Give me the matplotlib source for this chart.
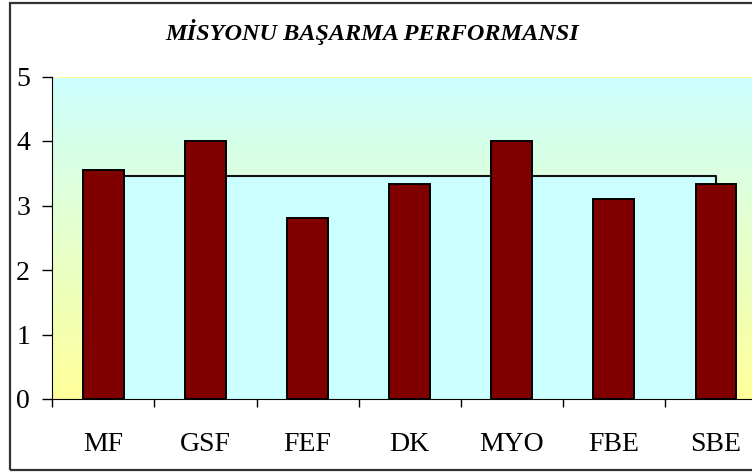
import numpy as np
import matplotlib
matplotlib.use("Agg")
import matplotlib.pyplot as plt
from matplotlib.colors import LinearSegmentedColormap
from matplotlib.patches import Rectangle

# values
categories = ["MF", "GSF", "FEF", "DK", "MYO", "FBE", "SBE"]
scores = [3.55, 4.0, 2.8, 3.34, 4.0, 3.1, 3.34]
average = 3.45
y_ticks = [0, 1, 2, 3, 4, 5]

plt.rcParams["font.family"] = ["Liberation Serif", "DejaVu Serif"]

fig = plt.figure(figsize=(7.52, 4.74), dpi=100)
fig.patch.set_facecolor("white")

# outer chart border (right edge falls outside the picture)
fig.patches.append(
    Rectangle((10 / 752, 1 - 470 / 474), 1.2, (470 - 3) / 474,
              transform=fig.transFigure, facecolor="none",
              edgecolor="#333333", linewidth=1.6)
)

left = 52.3 / 752
right = 767 / 752
bottom = 1 - 399 / 474
top = 1 - 76.5 / 474
ax = fig.add_axes([left, bottom, right - left, top - bottom])

x = np.arange(len(categories))
ax.set_xlim(-0.5, len(categories) - 0.5)
ax.set_ylim(0, 5)

# plot area gradient: cyan at top, yellow at bottom
grad = np.linspace(0, 1, 256).reshape(-1, 1)
cmap = LinearSegmentedColormap.from_list("bg", ["#CCFFFF", "#FFFF99"])
ax.imshow(grad, aspect="auto", cmap=cmap, origin="upper",
          extent=(-0.5, len(categories) - 0.5, 0, 5), zorder=0)

# average area series behind the bars
ax.fill_between([x[0], x[-1]], [average, average], 0,
                color="#CCFFFF", linewidth=0, zorder=1)
ax.plot([x[0], x[-1], x[-1]], [average, average, 0],
        color="#111111", linewidth=1.5, zorder=2)

ax.bar(x, scores, width=0.4, color="#800000", edgecolor="black",
       linewidth=1.4, zorder=3)

ax.axhline(5, color="#FFFF99", linewidth=1.5, zorder=4)

ax.set_yticks(y_ticks)
ax.tick_params(axis="y", direction="out", length=7, width=1,
               pad=9, labelsize=20)

ax.set_xticks(np.arange(-0.5, len(categories)), labels=[])
ax.set_xticks(x, labels=categories, minor=True)
ax.tick_params(axis="x", which="major", direction="out", length=6, width=1)
ax.tick_params(axis="x", which="minor", length=0, pad=24, labelsize=20)

for spine in ["top", "right"]:
    ax.spines[spine].set_visible(False)
ax.spines["left"].set_color("black")
ax.spines["bottom"].set_color("black")
ax.spines["left"].set_zorder(5)
ax.spines["bottom"].set_zorder(5)

fig.text(372 / 752, 1 - 32 / 474, "MİSYONU BAŞARMA PERFORMANSI",
         ha="center", va="center", fontsize=17.5, fontweight="bold",
         fontstyle="italic")

fig.savefig("out.png", dpi=100)
